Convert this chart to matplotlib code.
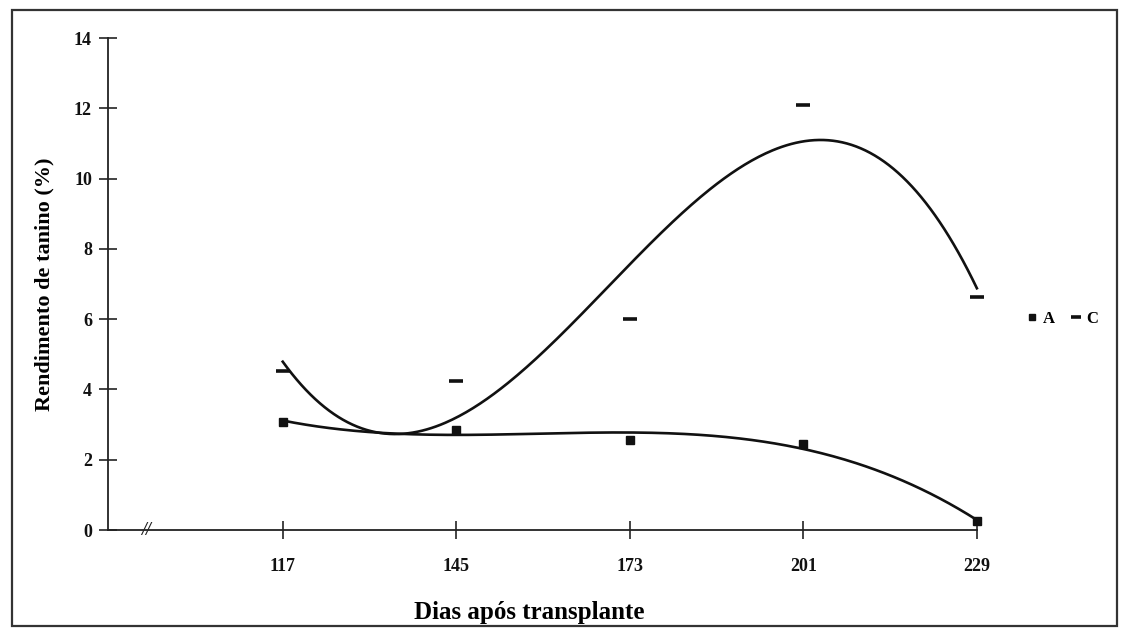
import numpy as np
import matplotlib
matplotlib.use('Agg')
import matplotlib.pyplot as plt
from matplotlib.patches import Rectangle

# dados
dias = [117, 145, 173, 201, 229]
serie_a = [3.08, 2.85, 2.56, 2.45, 0.25]
serie_c = [4.53, 4.24, 6.0, 12.1, 6.62]
y_ticks = [0, 2, 4, 6, 8, 10, 12, 14]

plt.rcParams['font.family'] = ['Liberation Serif', 'DejaVu Serif']
plt.rcParams['font.weight'] = 'bold'

fig = plt.figure(figsize=(11.27, 6.34), dpi=100)
ax = fig.add_axes([0.0958, 0.164, 0.771, 0.776])

# linhas de tendência polinomiais (grau 3)
xs = np.linspace(dias[0], dias[-1], 300)
for serie in (serie_a, serie_c):
    coef = np.polyfit(dias, serie, 3)
    ax.plot(xs, np.polyval(coef, xs), color='#111111', lw=1.9, zorder=2, clip_on=False)

ax.plot(dias, serie_a, ls='none', marker='s', ms=6, color='#111111', label='A',
        zorder=3, clip_on=False)
ax.plot(dias, serie_c, ls='none', marker='_', ms=10, mew=2.6, color='#111111', label='C',
        zorder=3, clip_on=False)

ax.set_xlim(88.8, 229)
ax.set_ylim(0, 14)
ax.set_xticks(dias)
ax.set_yticks(y_ticks)
ax.tick_params(direction='inout', length=13, width=1.1, labelsize=13, colors='#111111')
ax.tick_params(axis='x', pad=14)
ax.tick_params(axis='y', pad=5)
for lab in ax.get_xticklabels() + ax.get_yticklabels():
    lab.set_fontweight('bold')
ax.spines['top'].set_visible(False)
ax.spines['right'].set_visible(False)
ax.spines['left'].set_color('#222222')
ax.spines['bottom'].set_color('#222222')
ax.spines['left'].set_linewidth(1.3)
ax.spines['bottom'].set_linewidth(1.3)

# quebra do eixo x
ax.text(95, 0, '//', ha='center', va='center', fontsize=13, style='italic',
        color='#222222', clip_on=False)

ax.set_xlabel('Dias após transplante', fontsize=18, fontweight='bold')
ax.set_ylabel('Rendimento de tanino (%)', fontsize=16, fontweight='bold', labelpad=14)
ax.xaxis.set_label_coords(0.485, -0.145)

fig.legend(loc='center', bbox_to_anchor=(0.943, 0.497), ncol=2, frameon=False,
           handlelength=0.6, handletextpad=0.3, columnspacing=1.0,
           markerscale=0.75, prop={'weight': 'bold', 'size': 12})

# moldura externa
fig.patches.append(Rectangle((0.011, 0.012), 0.98, 0.972, transform=fig.transFigure,
                             fill=False, ec='#333333', lw=1.6))

fig.savefig('out.png', dpi=100, facecolor='white')
